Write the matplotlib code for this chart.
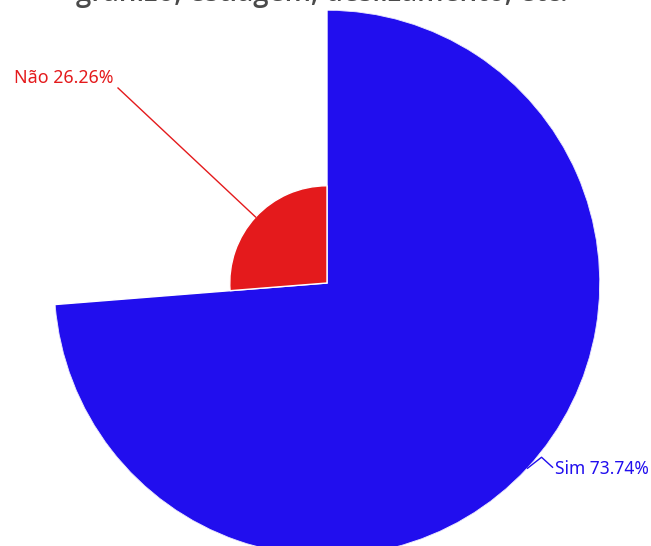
import numpy as np
import matplotlib
matplotlib.use("Agg")
import matplotlib.pyplot as plt
from matplotlib.lines import Line2D

categories = ["Sim", "Não"]
values = [73.74, 26.26]
colors = ["#210eee", "#e41a1c"]
title_line = "granizo, estiagem, deslizamento, etc."

W, H = 651, 546
fig = plt.figure(figsize=(W / 100, H / 100), dpi=100)
plt.rcParams['font.family'] = ['Noto Sans', 'DejaVu Sans']

cx, cy, R = 327, 283, 273
ax = fig.add_axes([(cx - R) / W, (H - cy - R) / H, 2 * R / W, 2 * R / H], projection='polar')
ax.set_theta_zero_location('N')
ax.set_theta_direction(-1)
ax.set_ylim(0, max(values))
ax.axis('off')

total = sum(values)
shares = [v / total for v in values]
widths = [2 * np.pi * s for s in shares]
starts = np.cumsum([0] + widths[:-1])
centers = starts + np.array(widths) / 2
ax.bar(centers, values, width=widths, color=colors, edgecolor='white', linewidth=1, align='center')

fig.canvas.draw()
def to_px(theta, r):
    x, y = ax.transData.transform((theta, r))
    return x, y

# Sim label (bottom right)
x0, y0 = to_px(centers[0], values[0])
pts = [(x0, y0), (x0 + 14, y0 + 11), (x0 + 25, y0 + 1)]
fig.add_artist(Line2D([p[0] for p in pts], [p[1] for p in pts], transform=None, color=colors[0], lw=1))
fig.text((x0 + 27) / W, (y0 - 1) / H, f"{categories[0]} {values[0]:.2f}%", color=colors[0],
         fontsize=12.5, ha='left', va='center')

# Não label (top left)
x1, y1 = to_px(centers[1], values[1])
ex, ey = 118, H - 88
fig.add_artist(Line2D([x1, ex], [y1, ey], transform=None, color=colors[1], lw=1))
fig.text((ex - 4) / W, (H - 78) / H, f"{categories[1]} {values[1]:.2f}%", color=colors[1],
         fontsize=12.8, ha='right', va='center')

fig.text(0.495, (H - 1) / H, title_line, ha='center', va='baseline', fontsize=20,
         fontweight='semibold', color='#4a4a4a', family=['Open Sans', 'DejaVu Sans'])

fig.savefig("out.png", dpi=100)
